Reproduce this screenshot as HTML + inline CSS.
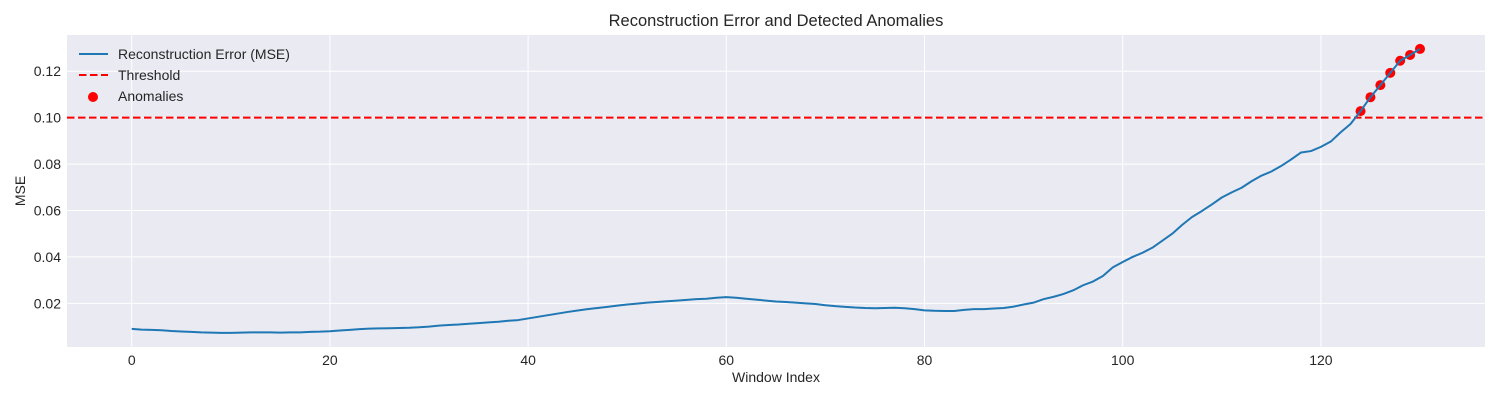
<!DOCTYPE html>
<html><head><meta charset="utf-8"><style>
body{margin:0;background:#fff}
svg text{font-family:"Liberation Sans",sans-serif;fill:#262626}
</style></head><body>
<svg id="chart" width="1500" height="400" xmlns="http://www.w3.org/2000/svg">
<rect x="67" y="35" width="1418" height="312" fill="#eaeaf2"/>
<g id="grid"></g>
<g id="marks"></g>
<text x="776" y="26" text-anchor="middle" font-size="16.5">Reconstruction Error and Detected Anomalies</text>
<text x="776" y="382" text-anchor="middle" font-size="14">Window Index</text>
<text x="25" y="191" text-anchor="middle" font-size="14" transform="rotate(-90 25 191)">MSE</text>
<g>
<line x1="79" y1="54" x2="108" y2="54" stroke="#1f77b4" stroke-width="2"/>
<text x="118" y="59" font-size="14">Reconstruction Error (MSE)</text>
<line x1="79" y1="75" x2="108" y2="75" stroke="#ff0000" stroke-width="2" stroke-dasharray="7.5,3.5"/>
<text x="118" y="80" font-size="14">Threshold</text>
<circle cx="93" cy="97" r="5" fill="#ff0000"/>
<text x="118" y="101" font-size="14">Anomalies</text>
</g>
</svg>
<script>
const mseValues = [0.0090,0.0087,0.0086,0.0084,0.0081,0.0079,0.0077,0.0075,0.0074,0.0073,
0.0073,0.0074,0.0075,0.0075,0.0075,0.0074,0.0075,0.0075,0.0077,0.0078,
0.0080,0.0083,0.0086,0.0089,0.0091,0.0092,0.0093,0.0094,0.0095,0.0097,
0.0100,0.0104,0.0107,0.0109,0.0112,0.0115,0.0118,0.0121,0.0125,0.0128,
0.0135,0.0142,0.0149,0.0156,0.0163,0.0169,0.0175,0.0180,0.0185,0.0190,
0.0195,0.0199,0.0203,0.0206,0.0209,0.0212,0.0215,0.0218,0.0220,0.0224,
0.0227,0.0224,0.0220,0.0216,0.0212,0.0208,0.0206,0.0203,0.0200,0.0197,
0.0192,0.0188,0.0185,0.0182,0.0180,0.0179,0.0180,0.0181,0.0179,0.0175,
0.0170,0.0168,0.0167,0.0167,0.0172,0.0175,0.0175,0.0178,0.0180,0.0186,
0.0195,0.0203,0.0218,0.0228,0.0240,0.0256,0.0278,0.0294,0.0318,0.0355,
0.0378,0.0400,0.0418,0.0440,0.0470,0.0500,0.0538,0.0572,0.0598,0.0626,
0.0656,0.0678,0.0698,0.0726,0.0750,0.0768,0.0792,0.0820,0.0850,0.0856,
0.0874,0.0897,0.0937,0.0973,0.1028,0.1088,0.1140,0.1193,0.1245,0.1270,0.1296];
const threshold = 0.10;
const xTicks = [0,20,40,60,80,100,120];
const yTicks = [0.02,0.04,0.06,0.08,0.10,0.12];
const yTickLabels = ["0.02","0.04","0.06","0.08","0.10","0.12"];

const NS="http://www.w3.org/2000/svg";
const X0=67,X1=1485,Y0=35,Y1=347;
const xMin=-6.53,xMax=136.56,yMin=0.0012,yMax=0.1356;
const sx=v=>X0+(v-xMin)/(xMax-xMin)*(X1-X0);
const sy=v=>Y1-(v-yMin)/(yMax-yMin)*(Y1-Y0);
function mk(tag,attrs,parent){const e=document.createElementNS(NS,tag);for(const k in attrs)e.setAttribute(k,attrs[k]);parent.appendChild(e);return e;}
const grid=document.getElementById('grid'),marks=document.getElementById('marks'),svg=document.getElementById('chart');
xTicks.forEach(t=>{
  const l=mk('line',{x1:sx(t),x2:sx(t),y1:Y0,y2:Y1,stroke:'#fff','stroke-width':1},grid);
  
  
  const tx=mk('text',{x:sx(t),y:Y1+18,'text-anchor':'middle','font-size':14},svg);
  tx.textContent=t;
  
  
});
yTicks.forEach((t,i)=>{
  const l=mk('line',{x1:X0,x2:X1,y1:sy(t),y2:sy(t),stroke:'#fff','stroke-width':1},grid);
  
  
  const tx=mk('text',{x:X0-6,y:sy(t)+5,'text-anchor':'end','font-size':14},svg);
  tx.textContent=yTickLabels[i];
  
  
});
const pts=mseValues.map((v,i)=>sx(i).toFixed(2)+','+sy(v).toFixed(2)).join(' ');
const line=mk('polyline',{points:pts,fill:'none',stroke:'#1f77b4','stroke-width':2,'stroke-linejoin':'round'},marks);


const th=mk('line',{x1:X0,x2:X1,y1:sy(threshold),y2:sy(threshold),stroke:'#ff0000','stroke-width':2,'stroke-dasharray':'7.5,3.5'},marks);


mseValues.forEach((v,i)=>{
  if(v>threshold){
    const c=mk('circle',{cx:sx(i),cy:sy(v),r:5,fill:'#ff0000'},marks);
    
    
  }
});
marks.appendChild(line);
</script>
</body></html>
